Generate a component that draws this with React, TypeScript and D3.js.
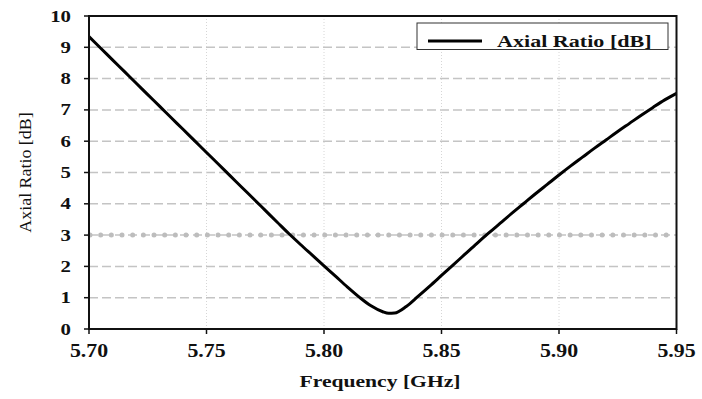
import { useEffect, useRef } from 'react'
import * as d3 from 'd3'

// frequency samples [GHz] and axial ratio [dB]
const freqs = [
  5.700, 5.705, 5.710, 5.715, 5.720, 5.725, 5.730, 5.735, 5.740, 5.745,
  5.750, 5.755, 5.760, 5.765, 5.770, 5.775, 5.780, 5.785, 5.790, 5.795,
  5.800, 5.805, 5.810, 5.815, 5.820, 5.825, 5.8275, 5.830, 5.835, 5.840,
  5.845, 5.850, 5.855, 5.860, 5.865, 5.870, 5.875, 5.880, 5.885, 5.890,
  5.895, 5.900, 5.905, 5.910, 5.915, 5.920, 5.925, 5.930, 5.935, 5.940,
  5.945, 5.950,
]
const axialRatio = [
  9.34, 8.97, 8.60, 8.23, 7.86, 7.49, 7.12, 6.75, 6.38, 6.01,
  5.64, 5.27, 4.90, 4.53, 4.16, 3.79, 3.42, 3.05, 2.70, 2.36,
  2.02, 1.68, 1.34, 1.02, 0.74, 0.55, 0.50, 0.51, 0.72, 1.04,
  1.37, 1.71, 2.05, 2.39, 2.73, 3.06, 3.38, 3.70, 4.01, 4.32,
  4.62, 4.92, 5.21, 5.49, 5.77, 6.04, 6.31, 6.57, 6.83, 7.08,
  7.32, 7.53,
]
const xTicks = [5.70, 5.75, 5.80, 5.85, 5.90, 5.95]
const yTicks = [0, 1, 2, 3, 4, 5, 6, 7, 8, 9, 10]
const threshold = 3
const seriesName = 'Axial Ratio [dB]'
const xTitle = 'Frequency [GHz]'
const yTitle = 'Axial Ratio [dB]'

const font = '"Liberation Serif", "Times New Roman", serif'

export default function App() {
  const ref = useRef<SVGSVGElement>(null)

  useEffect(() => {
    if (!ref.current) return
    document.body.style.margin = '0'
    const svg = d3.select(ref.current)
    svg.selectAll('*').remove()

    const width = 702
    const height = 399
    const left = 89, right = 676.5, top = 16, bottom = 329
    svg.attr('width', width).attr('height', height)

    const x = d3.scaleLinear().domain([5.70, 5.95]).range([left, right])
    const y = d3.scaleLinear().domain([0, 10]).range([bottom, top])

    svg.append('rect').attr('width', width).attr('height', height).attr('fill', 'white')

    // horizontal dashed grid
    svg.append('g').selectAll('line')
      .data(yTicks.filter(d => d > 0 && d < 10))
      .join('line')
      .attr('x1', left).attr('x2', right)
      .attr('y1', d => y(d)).attr('y2', d => y(d))
      .attr('stroke', '#c4c4c4')
      .attr('stroke-width', 1.5)
      .attr('stroke-dasharray', '9 4')

    // vertical dotted grid
    svg.append('g').selectAll('line')
      .data(xTicks.slice(1, -1))
      .join('line')
      .attr('x1', d => x(d)).attr('x2', d => x(d))
      .attr('y1', top).attr('y2', bottom)
      .attr('stroke', '#d6d6d6')
      .attr('stroke-width', 1)
      .attr('stroke-dasharray', '1 2')

    // 3 dB reference line (dots)
    svg.append('line')
      .attr('x1', left + 1).attr('x2', right)
      .attr('y1', y(threshold)).attr('y2', y(threshold))
      .attr('stroke', '#bdbdbd')
      .attr('stroke-width', 5)
      .attr('stroke-linecap', 'round')
      .attr('stroke-dasharray', '0 10.67')

    // curve
    const pts: [number, number][] = freqs.map((f, i) => [f, axialRatio[i]])
    const line = d3.line<[number, number]>()
      .x(d => x(d[0]))
      .y(d => y(d[1]))
      .curve(d3.curveMonotoneX)
    svg.append('path')
      .datum(pts)
      .attr('d', line)
      .attr('fill', 'none')
      .attr('stroke', 'black')
      .attr('stroke-width', 3)
      .attr('stroke-linejoin', 'round')

    // frame
    svg.append('rect')
      .attr('x', left).attr('y', top)
      .attr('width', right - left).attr('height', bottom - top)
      .attr('fill', 'none')
      .attr('stroke', '#111')
      .attr('stroke-width', 2)

    // ticks
    svg.append('g').selectAll('line')
      .data(yTicks)
      .join('line')
      .attr('x1', left - 5).attr('x2', left)
      .attr('y1', d => y(d)).attr('y2', d => y(d))
      .attr('stroke', '#111').attr('stroke-width', 1.5)
    svg.append('g').selectAll('line')
      .data(xTicks)
      .join('line')
      .attr('x1', d => x(d)).attr('x2', d => x(d))
      .attr('y1', bottom).attr('y2', bottom + 5)
      .attr('stroke', '#111').attr('stroke-width', 1.5)

    // stretched text helper
    const stretched = (tx: number, ty: number, sx: number, txt: string, size: number,
      anchor: string, bold: boolean, rotate = 0) => {
      svg.append('text')
        .attr('transform', `translate(${tx},${ty}) rotate(${rotate}) scale(${sx},1)`)
        .attr('text-anchor', anchor)
        .style('font-family', font)
        .style('font-size', `${size}px`)
        .style('font-weight', bold ? 'bold' : 'normal')
        .attr('fill', '#111')
        .text(txt)
    }

    yTicks.forEach(d => stretched(71, y(d) + 5.5, 1.3, String(d), 16, 'end', true))
    xTicks.forEach(d => stretched(x(d), 357, 1.15, d.toFixed(2), 19, 'middle', true))

    stretched(380, 387, 1.35, xTitle, 16, 'middle', true)
    stretched(31, 172.5, 1.12, yTitle, 16, 'middle', false, -90)

    // legend
    svg.append('rect')
      .attr('x', 417).attr('y', 23)
      .attr('width', 251).attr('height', 26.5)
      .attr('fill', 'white')
      .attr('stroke', '#333')
      .attr('stroke-width', 1)
    svg.append('line')
      .attr('x1', 428).attr('x2', 482)
      .attr('y1', 41).attr('y2', 41)
      .attr('stroke', 'black').attr('stroke-width', 3)
    stretched(497, 46.5, 1.3, seriesName, 17, 'start', true)
  }, [])

  return <svg ref={ref} style={{ display: 'block' }}></svg>
}
